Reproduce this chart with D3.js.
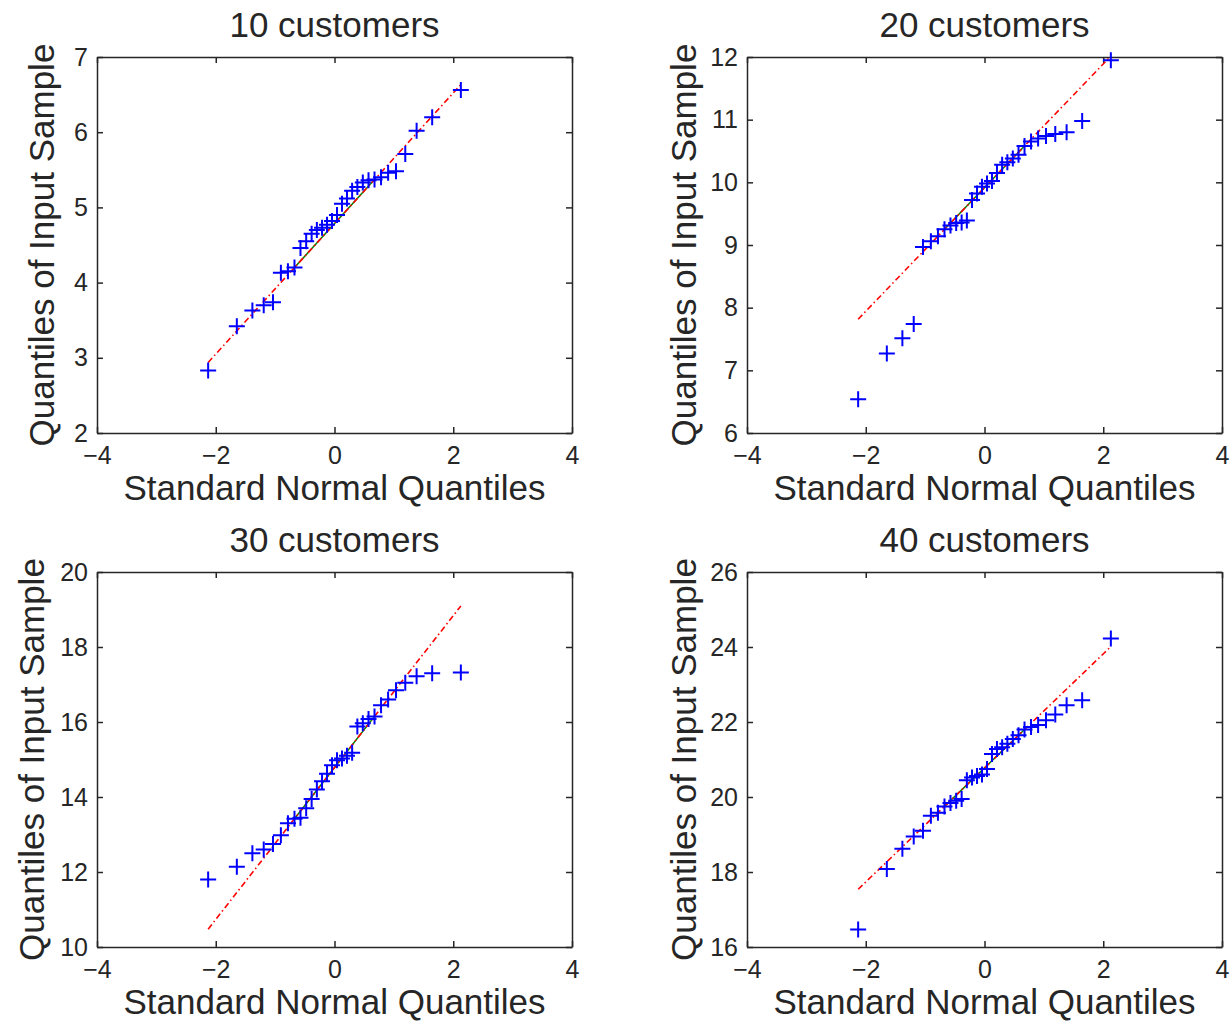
<!DOCTYPE html>
<html><head><meta charset="utf-8">
<script src="https://cdn.jsdelivr.net/npm/d3@7"></script>
<style>
body{margin:0;background:#fff}
text{font-family:"Liberation Sans",Arial,Helvetica,sans-serif;fill:#262626}
</style>
</head><body>
<svg id="c" width="1231" height="1022"></svg>
<script>
// Theoretical standard normal quantiles (n = 30), shared x for all panels
const normalQuantiles = [-2.128, -1.645, -1.383, -1.192, -1.036, -0.903, -0.784, -0.674, -0.573, -0.477,
  -0.385, -0.297, -0.210, -0.126, -0.042, 0.042, 0.126, 0.210, 0.297, 0.385,
  0.477, 0.573, 0.674, 0.784, 0.903, 1.036, 1.192, 1.383, 1.645, 2.128];

const titles = ["10 customers", "20 customers", "30 customers", "40 customers"];

const sample10 = [2.83, 3.42, 3.63, 3.70, 3.74, 4.13, 4.15, 4.20, 4.46, 4.55,
  4.65, 4.70, 4.73, 4.77, 4.82, 4.90, 5.05, 5.12, 5.22, 5.27,
  5.33, 5.36, 5.37, 5.40, 5.46, 5.48, 5.71, 6.02, 6.20, 6.56];
const sample20 = [6.54, 7.27, 7.51, 7.74, 8.97, 9.06, 9.14, 9.25, 9.31, 9.35,
  9.36, 9.39, 9.72, 9.82, 9.93, 9.98, 10.02, 10.15, 10.28, 10.32,
  10.38, 10.44, 10.58, 10.65, 10.70, 10.74, 10.77, 10.80, 10.98, 11.95];
const sample30 = [11.80, 12.14, 12.50, 12.60, 12.75, 12.98, 13.30, 13.42, 13.45, 13.70,
  13.95, 14.20, 14.42, 14.62, 14.85, 14.98, 15.03, 15.10, 15.18, 15.88,
  15.97, 16.08, 16.15, 16.45, 16.60, 16.85, 17.05, 17.22, 17.30, 17.32];
const sample40 = [16.47, 18.08, 18.62, 18.95, 19.10, 19.50, 19.58, 19.75, 19.84, 19.90,
  19.95, 20.45, 20.52, 20.56, 20.60, 20.75, 21.15, 21.28, 21.33, 21.42,
  21.55, 21.65, 21.80, 21.87, 21.92, 22.05, 22.20, 22.45, 22.58, 24.23];

const xDomain = [-4, 4];
const xTicks = [-4, -2, 0, 2, 4];
const yDomains = [[2, 7], [6, 12], [10, 20], [16, 26]];
const yTicks = [[2, 3, 4, 5, 6, 7], [6, 7, 8, 9, 10, 11, 12], [10, 12, 14, 16, 18, 20], [16, 18, 20, 22, 24, 26]];
const xLabel = "Standard Normal Quantiles";
const yLabel = "Quantiles of Input Sample";

const samples = [sample10, sample20, sample30, sample40];

// layout (pixels)
const layout = [
  {left: 97, top: 57, w: 475, h: 376, yl: 43},
  {left: 747, top: 57, w: 475, h: 376, yl: 51},
  {left: 97, top: 572, w: 475, h: 375, yl: 53},
  {left: 747, top: 572, w: 475, h: 375, yl: 51}
];

const svg = d3.select("#c");
const axisColor = "#262626";
const tickFont = 25, labelFont = 35;
const fmt = d3.format("d");

// MATLAB prctile-like quantile for sorted arrays
function prctile(arr, p) {
  const n = arr.length;
  const pos = p / 100 * n + 0.5;
  if (pos <= 1) return arr[0];
  if (pos >= n) return arr[n - 1];
  const lo = Math.floor(pos), f = pos - lo;
  return arr[lo - 1] + f * (arr[lo] - arr[lo - 1]);
}

samples.forEach((ys, i) => {
  const L = layout[i];
  const g = svg.append("g").attr("transform", `translate(${L.left},${L.top})`);
  const x = d3.scaleLinear().domain(xDomain).range([0, L.w]);
  const y = d3.scaleLinear().domain(yDomains[i]).range([L.h, 0]);

  const styleAxis = sel => {
    sel.selectAll("path.domain").attr("stroke", axisColor).attr("stroke-width", 1.5);
    sel.selectAll(".tick line").attr("stroke", axisColor).attr("stroke-width", 1.5);
    sel.selectAll(".tick text").attr("font-size", tickFont).attr("fill", axisColor)
      .style("font-family", '"Liberation Sans", Arial, sans-serif');
  };
  g.append("g").attr("transform", `translate(0,${L.h})`)
    .call(d3.axisBottom(x).tickValues(xTicks).tickFormat(fmt).tickSizeInner(-6).tickSizeOuter(0).tickPadding(13))
    .call(styleAxis);
  g.append("g")
    .call(d3.axisTop(x).tickValues(xTicks).tickSizeInner(-6).tickSizeOuter(0).tickFormat(""))
    .call(styleAxis);
  g.append("g")
    .call(d3.axisLeft(y).tickValues(yTicks[i]).tickFormat(fmt).tickSizeInner(-6).tickSizeOuter(0).tickPadding(9))
    .call(styleAxis);
  g.append("g").attr("transform", `translate(${L.w},0)`)
    .call(d3.axisRight(y).tickValues(yTicks[i]).tickSizeInner(-6).tickSizeOuter(0).tickFormat(""))
    .call(styleAxis);

  // reference lines (qqplot): quartile segment (green solid) and extension (red dash-dot)
  const q1x = prctile(normalQuantiles, 25), q3x = prctile(normalQuantiles, 75);
  const q1y = prctile(ys, 25), q3y = prctile(ys, 75);
  const slope = (q3y - q1y) / (q3x - q1x);
  const minX = d3.min(normalQuantiles), maxX = d3.max(normalQuantiles);
  const lineAt = v => q1y + slope * (v - q1x);

  g.append("line")
    .attr("x1", x(q1x)).attr("y1", y(q1y)).attr("x2", x(q3x)).attr("y2", y(q3y))
    .attr("stroke", "#008000").attr("stroke-width", 1.5);
  g.append("line")
    .attr("x1", x(minX)).attr("y1", y(lineAt(minX))).attr("x2", x(maxX)).attr("y2", y(lineAt(maxX)))
    .attr("stroke", "#ff0000").attr("stroke-width", 1.6)
    .attr("stroke-dasharray", "6,3,1.5,3");

  // data markers '+'
  g.selectAll("path.pt").data(ys).join("path")
    .attr("class", "pt")
    .attr("transform", (d, k) => `translate(${x(normalQuantiles[k])},${y(d)})`)
    .attr("d", "M-8,0H8M0,-8V8")
    .attr("stroke", "#0000ff").attr("stroke-width", 2).attr("fill", "none");

  // title
  g.append("text").attr("x", L.w / 2).attr("y", -20).attr("text-anchor", "middle")
    .attr("font-size", labelFont).text(titles[i]);
  // x label
  g.append("text").attr("x", L.w / 2).attr("y", L.h + 67).attr("text-anchor", "middle")
    .attr("font-size", labelFont).text(xLabel);
  // y label
  g.append("text").attr("transform", `translate(${-L.yl},${L.h / 2}) rotate(-90)`)
    .attr("text-anchor", "middle").attr("font-size", labelFont).text(yLabel);
});
</script>
</body></html>
